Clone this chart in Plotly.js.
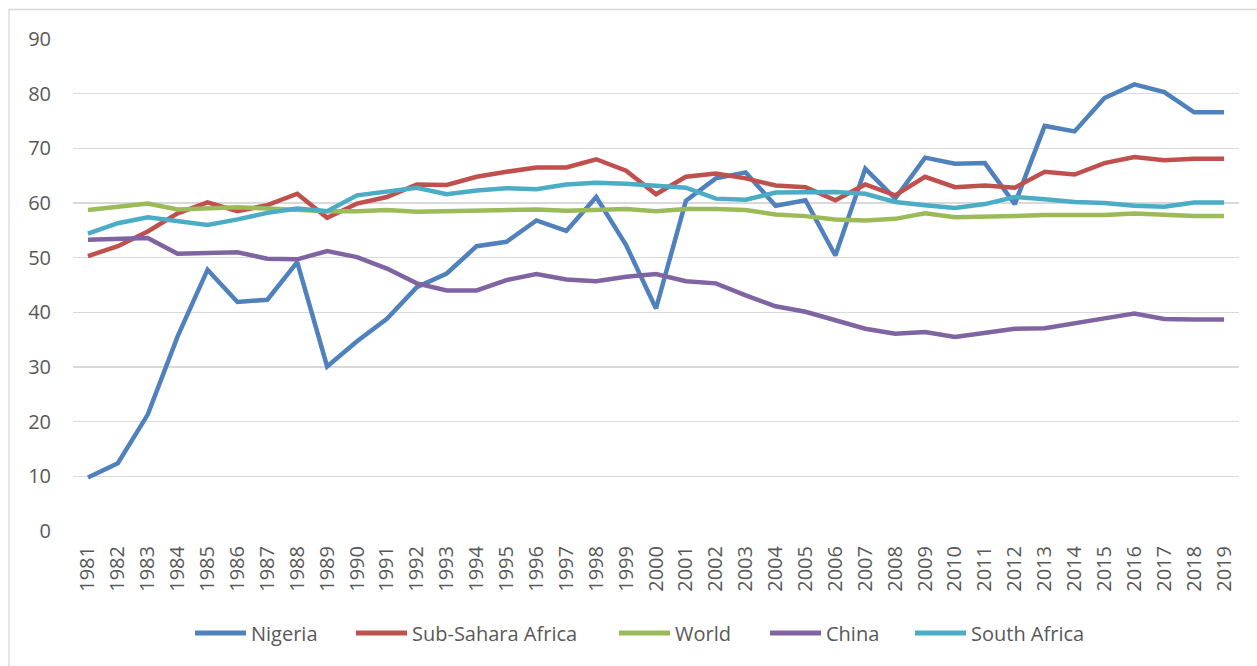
<!DOCTYPE html>
<html>
<head>
<meta charset="utf-8">
<script src="https://cdn.plot.ly/plotly-3.0.1.min.js"></script>
<style>
  html, body { margin: 0; padding: 0; background: #fff; }
  #chart { width: 1257px; height: 666px; }
</style>
</head>
<body>
<div id="chart"></div>
<script>
const years = ["1981","1982","1983","1984","1985","1986","1987","1988","1989","1990",
  "1991","1992","1993","1994","1995","1996","1997","1998","1999","2000",
  "2001","2002","2003","2004","2005","2006","2007","2008","2009","2010",
  "2011","2012","2013","2014","2015","2016","2017","2018","2019"];

const nigeria = [9.8,12.4,21.3,35.6,47.8,41.9,42.3,49.2,30.1,34.7,
  38.8,44.6,47.1,52.1,52.9,56.8,54.9,61.1,52.3,40.7,
  60.4,64.5,65.6,59.5,60.5,50.4,66.3,60.8,68.3,67.2,
  67.3,59.8,74.1,73.1,79.2,81.7,80.3,76.6,76.6];

const subSahara = [50.3,52.1,54.8,58.1,60.1,58.5,59.6,61.7,57.3,59.9,
  61.1,63.4,63.3,64.8,65.7,66.5,66.5,68.0,65.9,61.6,
  64.8,65.4,64.5,63.2,62.9,60.5,63.4,61.4,64.8,62.9,
  63.2,62.8,65.7,65.2,67.3,68.4,67.8,68.1,68.1];

const world = [58.7,59.3,59.9,58.8,58.9,59.2,59.0,58.7,58.5,58.5,
  58.7,58.4,58.5,58.7,58.6,58.8,58.6,58.8,58.9,58.5,
  58.9,58.9,58.7,57.9,57.6,57.0,56.8,57.1,58.1,57.4,
  57.4,57.6,57.8,57.8,57.8,58.1,57.8,57.6,57.6];

const china = [53.3,53.4,53.6,50.7,50.8,51.0,49.8,49.7,51.2,50.1,
  48.0,45.3,44.0,44.0,45.9,47.0,46.0,45.7,46.5,47.0,
  45.7,45.3,43.1,41.1,40.1,38.5,37.0,36.1,36.4,35.5,
  36.3,37.0,37.1,37.9,38.9,39.8,38.8,38.7,38.7];

const southAfrica = [54.4,56.3,57.4,56.8,56.0,57.0,58.2,59.0,58.5,61.4,
  62.0,62.8,61.6,62.3,62.7,62.5,63.4,63.7,63.5,63.2,
  62.8,60.8,60.6,61.9,62.0,62.0,61.7,60.2,59.6,59.1,
  59.8,61.1,60.7,60.2,60.0,59.5,59.3,60.1,60.1];

const seriesNames = ["Nigeria","Sub-Sahara Africa","World","China","South Africa"];
const seriesData = [nigeria, subSahara, world, china, southAfrica];
const seriesColors = ["#4F81BD","#C0504D","#9BBB59","#8064A2","#4BACC6"];

const yTicks = [0,10,20,30,40,50,60,70,80,90];

const traces = seriesNames.map((name, i) => ({
  type: "scatter",
  mode: "lines",
  name: name,
  x: years,
  y: seriesData[i],
  line: { color: seriesColors[i], width: 4.5, shape: "linear" },
  hoverinfo: "x+y+name",
  showlegend: false
}));

const font = "'Open Sans', 'DejaVu Sans', sans-serif";
const L = 73, R = 18, T = 39, B = 135;
const W = 1257, H = 666;
const pw = W - L - R, ph = H - T - B;
const px = v => (v - L) / pw;          // pixel x -> paper x
const py = v => (T + ph - v) / ph;      // pixel y -> paper y

// Legend layout (pixel positions of each entry's sample line start)
const legendY = 633;
const legendStarts = [193, 354, 617, 768, 913];
const legendLineLen = 55;
const legendGap = 4;

const shapes = [
  {
    type: "rect",
    xref: "paper", yref: "paper",
    x0: px(9), x1: px(W + 5),
    y0: py(H + 5), y1: py(9.5),
    line: { color: "#D9D9D9", width: 1.3 },
    fillcolor: "rgba(0,0,0,0)",
    layer: "below"
  }
];
const annotations = [];
seriesNames.forEach((name, i) => {
  const s = legendStarts[i];
  shapes.push({
    type: "line",
    xref: "paper", yref: "paper",
    x0: px(s + 2), x1: px(s + legendLineLen - 2),
    y0: py(legendY), y1: py(legendY),
    line: { color: seriesColors[i], width: 5 }
  });
  annotations.push({
    xref: "paper", yref: "paper",
    x: px(s + legendLineLen + legendGap - 3), y: py(legendY),
    xanchor: "left", yanchor: "middle",
    text: name,
    showarrow: false,
    font: { family: font, size: 20, color: "#595959" }
  });
});

const layout = {
  width: W,
  height: H,
  margin: { l: L, r: R, t: T, b: B, pad: 0 },
  paper_bgcolor: "#ffffff",
  plot_bgcolor: "#ffffff",
  font: { family: font, color: "#595959", size: 20 },
  showlegend: false,
  xaxis: {
    type: "category",
    categoryorder: "array",
    categoryarray: years,
    range: [-0.5, years.length - 0.5],
    tickangle: -90,
    showgrid: false,
    zeroline: false,
    showline: false,
    ticks: "",
    ticklabelstandoff: 10,
    tickfont: { family: font, size: 20, color: "#595959" },
    fixedrange: true
  },
  yaxis: {
    range: [0, 90],
    tickmode: "array",
    tickvals: yTicks,
    ticktext: yTicks.map(String),
    showgrid: true,
    gridcolor: "#D9D9D9",
    gridwidth: 1.3,
    zeroline: false,
    showline: false,
    ticks: "",
    ticklabelstandoff: 21,
    tickfont: { family: font, size: 20, color: "#595959" },
    fixedrange: true
  },
  shapes: shapes,
  annotations: annotations
};

Plotly.newPlot("chart", traces, layout, { displayModeBar: false, staticPlot: true });
</script>
</body>
</html>
